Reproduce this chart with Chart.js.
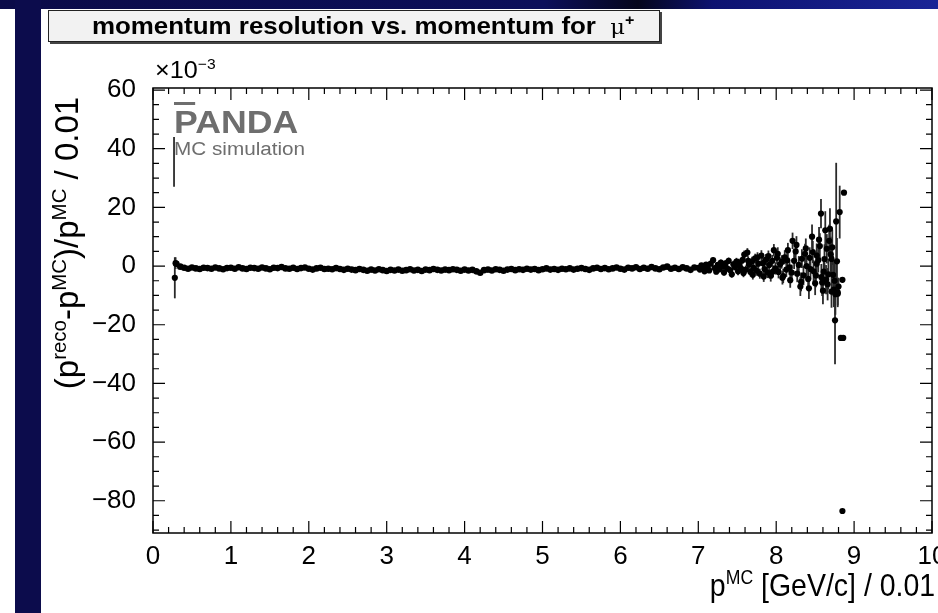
<!DOCTYPE html>
<html>
<head>
<meta charset="utf-8">
<script src="https://cdn.jsdelivr.net/npm/chart.js@4.4.0/dist/chart.umd.min.js"></script>
<style>
html, body { margin: 0; padding: 0; width: 938px; height: 613px; overflow: hidden; background: #fff; font-family: "Liberation Sans", Arial, sans-serif; }
#topband { position: absolute; left: 0; top: 0; width: 938px; height: 9px;
  background: linear-gradient(90deg, #0b0b48 0%, #0c0f5a 58%, #05061c 68%, #0d1270 76%, #1a2596 100%); }
#leftband { position: absolute; left: 15px; top: 0; width: 26px; height: 613px; background: #0c0c4c; }
#chart { position: absolute; left: 0; top: 0; }
#title { position: absolute; left: 48px; top: 10px; width: 610px; height: 30px; border: 1px solid #222;
  background: #f2f2f2; box-shadow: 2px 2px 0 #444; text-align: center; white-space: nowrap; }
#title .txt { display: inline-block; font-weight: bold; font-size: 24px; line-height: 30px; transform: scaleX(1.08); margin-left: 18px; }
#title .mu { font-family: "DejaVu Serif", "Liberation Serif", serif; font-weight: normal; font-size: 21px; }
sup { font-size: 62%; vertical-align: baseline; position: relative; top: -0.6em; }
#exp { position: absolute; left: 155px; top: 56px; font-size: 24px; transform: scaleX(1.05); transform-origin: left; }
#ytitle { position: absolute; left: -111px; top: 223px; width: 360px; text-align: center; font-size: 33px; line-height: 36px;
  transform: rotate(-90deg); white-space: nowrap; }
#xtitle { position: absolute; right: 3px; top: 567px; font-size: 32px; white-space: nowrap; transform: scaleX(0.89); transform-origin: right; }
#logo { position: absolute; left: 174px; top: 106px; color: #6e6e6e; transform: scaleX(1.15); transform-origin: left; }
#logo .big { font-weight: bold; font-size: 31px; line-height: 34px; }
#logo .big span { text-decoration: overline; }
#logo .small { font-size: 18px; line-height: 18px; }
</style>
</head>
<body>
<div id="topband"></div>
<div id="leftband"></div>
<canvas id="chart" width="938" height="613"></canvas>
<div id="title"><span class="txt">momentum resolution vs. momentum for &nbsp;<span class="mu">&mu;</span><sup>+</sup></span></div>
<div id="exp">&times;10<sup>&minus;3</sup></div>
<div id="logo"><div class="big"><span>P</span>ANDA</div><div class="small">MC simulation</div></div>
<div id="ytitle">(p<sup>reco</sup>-p<sup>MC</sup>)/p<sup>MC</sup> / 0.01</div>
<div id="xtitle">p<sup>MC</sup> [GeV/c] / 0.01</div>
<script>
// axis ranges and tick labels
var xTicks = [0, 1, 2, 3, 4, 5, 6, 7, 8, 9, 10];
var yTicks = [-80, -60, -40, -20, 0, 20, 40, 60];
var xRange = [0, 10];
var yRange = [-91, 60.7];

// flat part of the curve, p in GeV/c, resolution in units of 1e-3
var flatP = [0.30, 0.35, 0.40, 0.45, 0.50, 0.55, 0.60, 0.65, 0.70, 0.75,
  0.80, 0.85, 0.90, 0.95, 1.00, 1.05, 1.10, 1.15, 1.20, 1.25,
  1.30, 1.35, 1.40, 1.45, 1.50, 1.55, 1.60, 1.65, 1.70, 1.75,
  1.80, 1.85, 1.90, 1.95, 2.00, 2.05, 2.10, 2.15, 2.20, 2.25,
  2.30, 2.35, 2.40, 2.45, 2.50, 2.55, 2.60, 2.65, 2.70, 2.75,
  2.80, 2.85, 2.90, 2.95, 3.00, 3.05, 3.10, 3.15, 3.20, 3.25,
  3.30, 3.35, 3.40, 3.45, 3.50, 3.55, 3.60, 3.65, 3.70, 3.75,
  3.80, 3.85, 3.90, 3.95, 4.00, 4.05, 4.10, 4.15, 4.20, 4.25,
  4.30, 4.35, 4.40, 4.45, 4.50, 4.55, 4.60, 4.65, 4.70, 4.75,
  4.80, 4.85, 4.90, 4.95, 5.00, 5.05, 5.10, 5.15, 5.20, 5.25,
  5.30, 5.35, 5.40, 5.45, 5.50, 5.55, 5.60, 5.65, 5.70, 5.75,
  5.80, 5.85, 5.90, 5.95, 6.00, 6.05, 6.10, 6.15, 6.20, 6.25,
  6.30, 6.35, 6.40, 6.45, 6.50, 6.55, 6.60, 6.65, 6.70, 6.75,
  6.80, 6.85, 6.90, 6.95];
var flatV = [0.8, -0.2, -0.6, -0.9, -0.5, -0.8, -1.0, -0.6, -0.7, -0.9,
  -0.5, -0.8, -1.1, -0.7, -0.6, -0.9, -0.4, -0.8, -1.0, -0.6,
  -0.7, -0.9, -0.5, -0.8, -1.1, -0.6, -0.7, -0.3, -0.8, -0.9,
  -0.6, -1.0, -0.7, -0.5, -0.9, -1.2, -0.8, -0.6, -1.0, -0.9,
  -1.1, -0.7, -1.0, -1.3, -0.9, -1.2, -1.4, -1.0, -1.3, -1.6,
  -1.2, -1.5, -1.1, -1.4, -1.7, -1.3, -1.5, -1.2, -1.6, -1.4,
  -1.1, -1.5, -1.3, -1.7, -1.2, -1.4, -1.0, -1.3, -1.5, -1.2,
  -1.4, -1.1, -1.3, -1.6, -1.2, -1.5, -1.3, -1.8, -2.3, -1.4,
  -1.2, -1.5, -1.1, -1.3, -1.6, -1.2, -1.0, -1.4, -1.1, -1.3,
  -0.9, -1.2, -1.0, -1.4, -1.1, -0.8, -1.2, -1.0, -1.3, -0.9,
  -1.1, -0.8, -1.2, -0.9, -0.7, -1.0, -1.3, -0.8, -0.6, -1.0,
  -0.7, -1.1, -0.8, -0.5, -0.9, -1.2, -0.6, -0.8, -0.4, -1.0,
  -0.6, -0.9, -0.3, -0.8, -1.1, -0.5, -0.2, -0.9, -0.6, -1.0,
  -0.4, -0.8, -1.3, -0.5];

// bins with visible error bars (low edge and high momentum tail)
var tailP = [0.28, 0.29,
  7.00, 7.02, 7.04, 7.06, 7.08, 7.10, 7.12, 7.14, 7.16, 7.19,
  7.21, 7.23, 7.25, 7.27, 7.29, 7.31, 7.33, 7.35, 7.37, 7.39,
  7.41, 7.43, 7.45, 7.47, 7.49, 7.51, 7.53, 7.55, 7.57, 7.59,
  7.61, 7.63, 7.65, 7.67, 7.69, 7.71, 7.73, 7.75, 7.77, 7.79,
  7.81, 7.83, 7.85, 7.87, 7.89, 7.91, 7.93, 7.95, 7.97, 7.99,
  8.01, 8.03, 8.05, 8.07, 8.09, 8.11, 8.13, 8.15, 8.17, 8.18,
  8.21, 8.23, 8.25, 8.27, 8.29, 8.31, 8.33, 8.35, 8.37, 8.39,
  8.41, 8.43, 8.46, 8.48, 8.50, 8.52, 8.54, 8.56, 8.575, 8.59,
  8.61, 8.63, 8.65, 8.67, 8.69, 8.71, 8.72, 8.74, 8.755, 8.77,
  8.79, 8.80, 8.815, 8.83, 8.85, 8.86, 8.87, 8.85,
  8.44, 8.52, 8.58, 8.62, 8.66, 8.70, 8.73, 8.76, 8.78,
  7.52, 7.58, 7.64, 7.70, 7.76, 7.84, 7.90, 7.96, 8.02, 8.08,
  8.14, 8.20, 8.26, 8.32, 8.38, 8.42, 8.47, 8.51, 8.55, 8.60,
  8.64, 8.68, 8.71, 8.75, 8.79];
var tailV = [-4.0, 1.0,
  -0.6, -1.2, 0.2, -0.9, -1.8, 0.5, -0.4, -1.5, 0.8, 2.0,
  -0.7, -1.9, 0.4, -1.1, 1.2, -0.2, -2.2, 0.9, -0.8, 1.8,
  -1.4, -2.8, 0.6, -0.3, 1.5, -1.8, 0.2, -0.9, 2.1, 3.9,
  -1.2, 4.6, 0.5, -2.0, 1.6, -0.6, 2.6, -1.6, 0.8, -2.6,
  3.6, 1.0, -1.0, 2.2, -2.2, 0.4, -3.3, 1.8, 5.4, -0.8,
  2.8, -2.0, 0.6, 1.4, -3.4, 3.0, -1.2, 5.4, -0.4, -4.8,
  8.6, 1.8, 5.0, -2.6, 0.4, -7.0, 2.5, -3.2, 4.2, 0.0,
  -4.4, 2.8, 10.0, -1.8, -5.9, 3.6, 2.0, 6.8, 17.9, -5.6,
  -1.9, 12.2, 5.9, -2.8, 12.7, -8.7, 6.4, -8.0, -18.5, 15.2,
  -9.4, -7.0, 18.4, -24.5, -4.7, -24.5, 25.0, -83.5,
  -1.0, 0.8, -3.8, 2.4, -6.2, 4.0, -3.0, -9.6, 1.6,
  1.2, -2.4, 1.8, -3.0, 3.0, -3.6, 3.4, -1.8, 4.2, -4.0,
  2.0, -2.2, 7.2, -5.4, 6.0, -7.6, 4.8, -3.2, 9.0, -8.4,
  -4.6, 8.6, 2.4, -5.0, -9.0];
var tailE = [7.0, 2.0,
  0.6, 0.6, 0.7, 0.7, 0.7, 0.8, 0.8, 0.8, 0.9, 0.9,
  0.9, 0.9, 1.0, 1.0, 1.0, 1.0, 1.1, 1.1, 1.1, 1.1,
  1.2, 1.2, 1.2, 1.2, 1.3, 1.3, 1.3, 1.4, 1.4, 1.4,
  1.4, 1.5, 1.5, 1.5, 1.6, 1.6, 1.6, 1.7, 1.7, 1.7,
  1.8, 1.8, 1.8, 1.9, 1.9, 2.0, 2.0, 2.0, 2.1, 2.1,
  2.2, 2.2, 2.3, 2.3, 2.4, 2.4, 2.5, 2.5, 2.6, 2.6,
  2.8, 2.8, 2.9, 2.9, 3.0, 3.2, 3.2, 3.3, 3.4, 3.4,
  3.5, 3.6, 4.2, 3.8, 4.0, 4.1, 4.2, 4.4, 5.0, 4.6,
  4.8, 6.5, 5.0, 5.2, 7.0, 5.5, 6.0, 6.0, 15.0, 20.0,
  4.0, 3.0, 9.0, 0, 0, 0, 0, 0,
  3.6, 4.0, 4.5, 5.0, 5.5, 6.0, 6.5, 7.0, 8.0,
  1.3, 1.4, 1.5, 1.6, 1.7, 1.8, 1.9, 2.0, 2.2, 2.3,
  2.5, 2.7, 3.0, 3.2, 3.4, 3.6, 3.8, 4.0, 4.3, 4.6,
  5.0, 5.5, 6.0, 6.5, 5.0];

// first bin: error bar only, marker off scale in the original
var edgeP = [0.27];
var edgeV = [35.5];
var edgeE = [8.5];

function toPoints(ps, vs) {
  return ps.map(function (p, i) { return { x: p, y: vs[i] }; });
}

function signed(v) {
  return v < 0 ? '\u2212' + Math.abs(v) : String(v);
}

var tickFont = { family: 'Liberation Sans', size: 26 };

// error bars under the markers, frame and inward ticks on top
var rootFrame = {
  id: 'rootFrame',
  beforeDatasetsDraw: function (chart) {
    var ctx = chart.ctx, a = chart.chartArea;
    var xs = chart.scales.x, ys = chart.scales.y;
    ctx.save();
    ctx.beginPath();
    ctx.rect(a.left, a.top, a.right - a.left, a.bottom - a.top);
    ctx.clip();
    ctx.strokeStyle = '#2a2a2a';
    ctx.lineWidth = 1.8;
    chart.data.datasets.forEach(function (ds) {
      if (!ds.errors) return;
      ds.data.forEach(function (pt, i) {
        var e = ds.errors[i];
        if (!e) return;
        var px = xs.getPixelForValue(pt.x);
        ctx.beginPath();
        ctx.moveTo(px, ys.getPixelForValue(pt.y - e));
        ctx.lineTo(px, ys.getPixelForValue(pt.y + e));
        ctx.stroke();
      });
    });
    ctx.restore();
  },
  afterDraw: function (chart) {
    var ctx = chart.ctx, a = chart.chartArea;
    var xs = chart.scales.x, ys = chart.scales.y;
    ctx.save();
    ctx.strokeStyle = '#000';
    ctx.lineWidth = 1.5;
    ctx.strokeRect(a.left, a.top, a.right - a.left, a.bottom - a.top);
    ctx.lineWidth = 1.2;
    ctx.beginPath();
    var k, v, px, py, len;
    for (k = 0; k <= 50; k++) {
      v = k * 0.2;
      px = xs.getPixelForValue(v);
      len = (k % 5 === 0) ? 12 : 6;
      ctx.moveTo(px, a.bottom); ctx.lineTo(px, a.bottom - len);
      ctx.moveTo(px, a.top); ctx.lineTo(px, a.top + len);
    }
    for (v = -90; v <= 60; v += 5) {
      py = ys.getPixelForValue(v);
      len = (v % 20 === 0) ? 12 : 6;
      ctx.moveTo(a.left, py); ctx.lineTo(a.left + len, py);
      ctx.moveTo(a.right, py); ctx.lineTo(a.right - len, py);
    }
    ctx.stroke();
    ctx.restore();
  }
};

var ctx = document.getElementById('chart').getContext('2d');
var chart = new Chart(ctx, {
  type: 'scatter',
  data: {
    datasets: [
      { label: 'bins', data: toPoints(flatP, flatV), pointRadius: 3.3, backgroundColor: '#000', borderWidth: 0 },
      { label: 'tail', data: toPoints(tailP, tailV), errors: tailE, pointRadius: 3.1, backgroundColor: '#000', borderWidth: 0 },
      { label: 'edge', data: toPoints(edgeP, edgeV), errors: edgeE, pointRadius: 0, borderWidth: 0 }
    ]
  },
  options: {
    responsive: false,
    animation: false,
    layout: { padding: { left: 0, top: 88, right: 6, bottom: 0 } },
    plugins: { legend: { display: false }, tooltip: { enabled: false } },
    scales: {
      x: {
        type: 'linear', min: xRange[0], max: xRange[1],
        afterBuildTicks: function (s) { s.ticks = xTicks.map(function (v) { return { value: v }; }); },
        afterFit: function (s) { s.height = 80; s.paddingLeft = 0; s.paddingRight = 0; },
        grid: { display: false, drawTicks: false },
        border: { display: false },
        ticks: { padding: 8, color: '#000', font: tickFont, maxRotation: 0, autoSkip: false }
      },
      y: {
        type: 'linear', min: yRange[0], max: yRange[1],
        afterBuildTicks: function (s) { s.ticks = yTicks.map(function (v) { return { value: v }; }); },
        afterFit: function (s) { s.width = 153; s.paddingTop = 0; s.paddingBottom = 0; },
        grid: { display: false, drawTicks: false },
        border: { display: false },
        ticks: { padding: 17, color: '#000', font: tickFont, autoSkip: false, callback: function (v) { return signed(v); } }
      }
    }
  },
  plugins: [rootFrame]
});
</script>
</body>
</html>
